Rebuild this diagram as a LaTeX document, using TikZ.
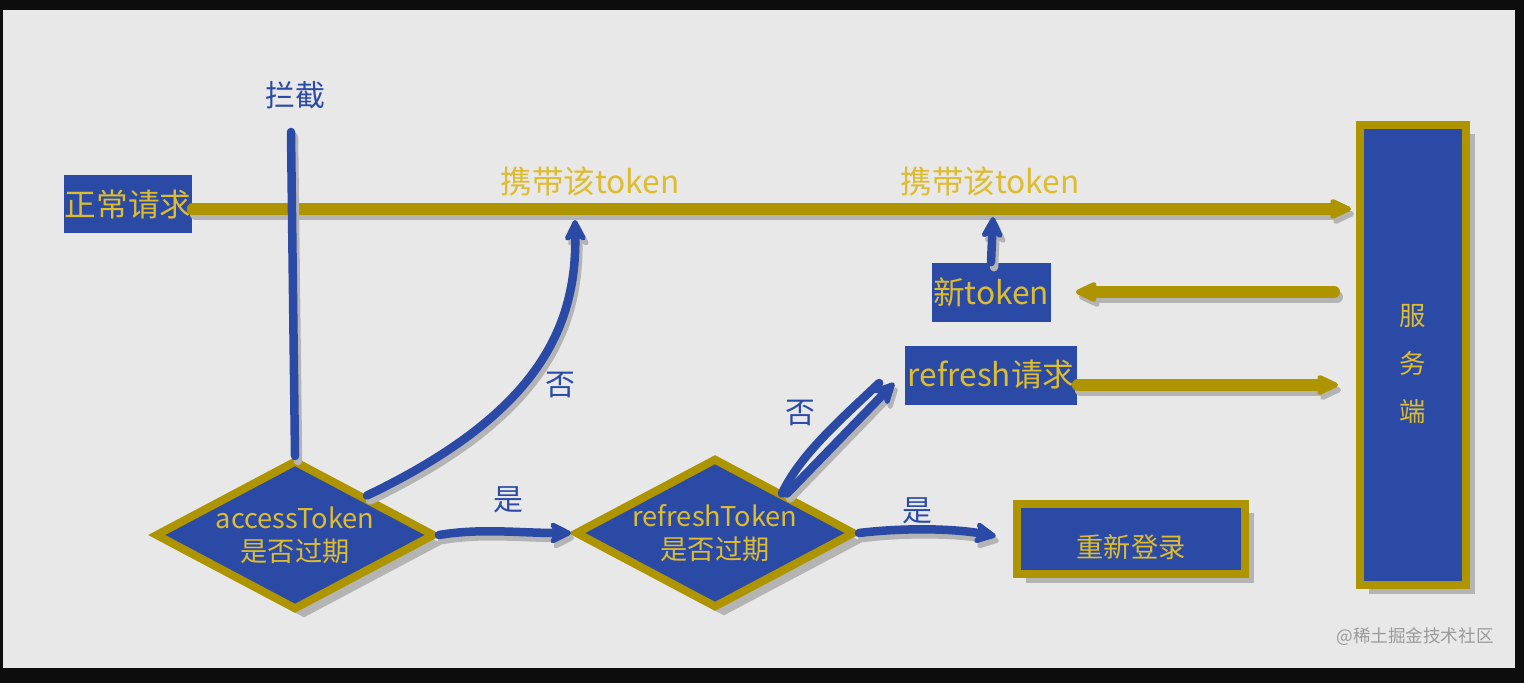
\documentclass[tikz,border=0pt]{standalone}
\usepackage{fontspec}
\newfontfamily\cjk{Noto Sans CJK SC}
\usepackage{tikz}
\usetikzlibrary{arrows.meta,shapes.geometric,positioning,shadows,calc}
\usepackage{xcolor}
\definecolor{boxblue}{HTML}{2A4AA6}
\definecolor{rimgold}{HTML}{AE9500}
\definecolor{tokengold}{HTML}{DDBC30}
\definecolor{paper}{HTML}{E8E8E8}
\definecolor{frame}{HTML}{0D0D0D}
\definecolor{shadowgray}{HTML}{B4B4B4}
\definecolor{markgray}{HTML}{9A9A9A}
% a connector with its grey shadow under it
\newcommand\castflow[2]{%
	\begin{scope}[transform canvas={shift={(0.06cm,-0.1cm)}}]
		\draw[#1,draw=shadowgray] #2;
	\end{scope}
	\draw[#1] #2;}

\begin{document}
\begin{tikzpicture}[
				x=0.02cm,y=-0.02cm,
				plainbox/.style={rectangle,fill=boxblue,text=tokengold,inner sep=0pt,font=\cjk\fontsize{18pt}{21pt}\selectfont},
				rimbox/.style={rectangle,fill=boxblue,draw=rimgold,line width=0.16cm,text=tokengold,inner sep=0pt,font=\cjk\fontsize{15.5pt}{19pt}\selectfont,drop shadow={shadow xshift=0.18cm,shadow yshift=-0.18cm,fill=shadowgray,opacity=1}},
				check/.style={rimbox,diamond,aspect=1.8,align=center,minimum width=5.6cm,minimum height=3cm},
				hint/.style={text=boxblue,font=\cjk\fontsize{17pt}{20pt}\selectfont},
				carry/.style={text=tokengold,font=\cjk\fontsize{18pt}{21pt}\selectfont},
				goldflow/.style={draw=rimgold,line width=0.24cm,line cap=round,-{Stealth[round,length=0.56cm,width=0.52cm,inset=0.16cm]}},
				blueline/.style={draw=boxblue,line width=0.17cm,line cap=round},
				blueflow/.style={blueline,-{Stealth[round,length=0.54cm,width=0.54cm,inset=0.16cm]}}
				]
				
				\useasboundingbox (0,0) rectangle (1524,683);
				\fill[frame] (0,0) rectangle (1524,683);
				\fill[paper] (3,10) rectangle (1515,668);
				
				\node[plainbox,minimum width=2.58cm,minimum height=1.16cm] (request) at (128,204) {正常请求};
				\node[hint] (intercept) at (295,95) {拦截};
				\node[check] (accessCheck) at (295,535) {accessToken\\是否过期};
				\node[check] (refreshCheck) at (715,533) {refreshToken\\是否过期};
				\node[rimbox,minimum width=4.58cm,minimum height=1.4cm,text height=0.74cm,text depth=0cm] (relogin) at (1131,539) {重新登录};
				\node[plainbox,minimum width=3.46cm,minimum height=1.18cm] (refreshReq) at (991,375) {refresh请求};
				\node[plainbox,minimum width=2.38cm,minimum height=1.18cm] (newToken) at (991,292) {新token};
				\node[rimbox,minimum width=2.12cm,minimum height=9.22cm,align=center,font=\cjk\fontsize{15pt}{27.3pt}\selectfont] (server) at (1413,355) {\rule{0pt}{0.77cm}服\\务\\端};
				
				\node[carry] (carryA) at (590,181) {携带该token};
				\node[carry] (carryB) at (990,181) {携带该token};
				\node[hint] (noA) at (560,385) {否};
				\node[hint] (yesA) at (508,500) {是};
				\node[hint] (noB) at (800,413) {否};
				\node[hint] (yesB) at (917,511) {是};
				\node[text=markgray,font=\cjk\fontsize{10pt}{12pt}\selectfont] (mark) at (1415,637) {@稀土掘金技术社区};
				
				\coordinate (cut) at (291,132);
				\coordinate (joinA) at (575,220);
				\coordinate (joinB) at (993,217);
				\coordinate (reqTail) at ([yshift=-0.1cm]request.east);
				\coordinate (reqOut) at ([yshift=-0.2cm]refreshReq.east);
				
				% token flow to the server
				\castflow{goldflow,shorten >=0.1cm}{(reqTail) -- (reqTail -| server.west)}
				\castflow{goldflow,shorten <=0.44cm,shorten >=0.5cm}{(newToken.east -| server.west) -- (newToken.east)}
				\castflow{goldflow,shorten >=0.36cm}{(reqOut) -- (reqOut -| server.west)}
				
				% checks
				\castflow{blueline}{(cut) -- (accessCheck.north)}
				\castflow{blueflow}{(accessCheck.north east) .. controls (535,415) and (577,330) .. (joinA)}
				\castflow{blueflow}{(accessCheck.east) .. controls (480,528) and (520,533) .. (refreshCheck.west)}
				\castflow{blueflow}{(refreshCheck.north east) -- ([xshift=-0.2cm,yshift=-0.16cm]refreshReq.west)}
				\draw[blueline] ([xshift=-0.1cm]refreshCheck.north east) .. controls (800,455) and (840,420) .. ([xshift=-0.5cm,yshift=-0.16cm]refreshReq.west);
				\castflow{blueflow,shorten >=0.34cm}{(refreshCheck.east) .. controls (900,528) and (950,528) .. (relogin.west)}
				\castflow{blueflow}{(newToken.north) -- (joinB)}
				
			\end{tikzpicture}
\end{document}
